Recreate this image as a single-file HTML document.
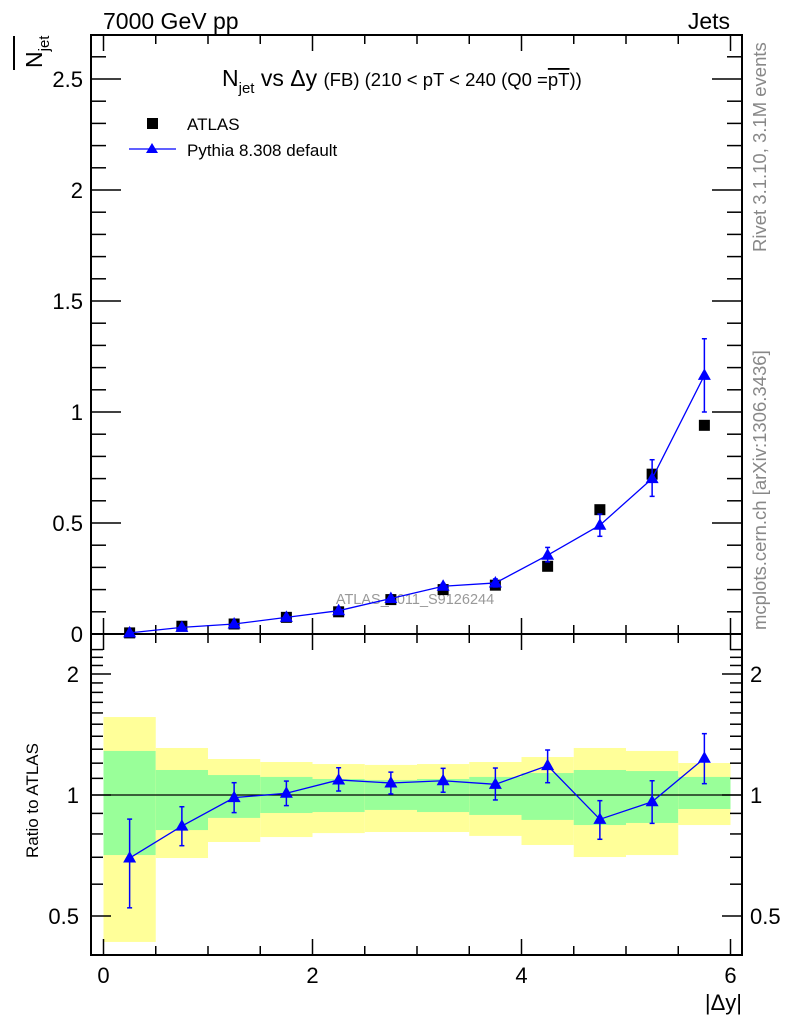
<!DOCTYPE html>
<html><head><meta charset="utf-8"><style>
html,body{margin:0;padding:0;background:#fff;}
svg{display:block;font-family:"Liberation Sans",sans-serif;}
</style></head><body>
<svg id="c" width="786" height="1024" viewBox="0 0 786 1024">
<text x="103" y="29" font-size="23">7000 GeV pp</text>
<text x="730" y="29" font-size="23" text-anchor="end">Jets</text>
<text x="0" y="0" font-size="18.5" fill="#888" transform="translate(766,252) rotate(-90)">Rivet 3.1.10,  3.1M events</text>
<text x="0" y="0" font-size="18.5" fill="#888" transform="translate(766,630) rotate(-90)">mcplots.cern.ch [arXiv:1306.3436]</text>
<g>
<text x="222" y="86" font-size="23">N<tspan font-size="15" dy="7">jet</tspan><tspan dy="-7"> vs Δy </tspan><tspan font-size="18.5">(FB) (210 &lt; pT &lt; 240 (Q0 =</tspan><tspan font-size="18.5" text-decoration="overline">pT</tspan><tspan font-size="18.5">))</tspan></text>
</g>
<g transform="translate(42,68) rotate(-90)">
<text x="0" y="0" font-size="23">N<tspan font-size="15" dy="7">jet</tspan></text>
</g>
<line x1="14" y1="36" x2="14" y2="70" stroke="#000" stroke-width="2"/>
<text x="0" y="0" font-size="17" transform="translate(38,858) rotate(-90)">Ratio to ATLAS</text>
<text x="742" y="1010" font-size="22" text-anchor="end">|Δy|</text>
<text x="415" y="604" font-size="14.5" fill="#999" text-anchor="middle">ATLAS_2011_S9126244</text>
<g>
<rect x="147" y="118" width="11" height="11" fill="#000"/>
<text x="187" y="130" font-size="17">ATLAS</text>
<line x1="129" y1="149" x2="176" y2="149" stroke="#00f" stroke-width="1.3"/>
<path d="M152,143 L158,153 L146,153 Z" fill="#00f"/>
<text x="187" y="156" font-size="17">Pythia 8.308 default</text>
</g>
<g id="g"></g>
</svg>
<script>
const xc=[0.25,0.75,1.25,1.75,2.25,2.75,3.25,3.75,4.25,4.75,5.25,5.75];
const atlas=[0.005,0.035,0.045,0.075,0.1,0.155,0.2,0.22,0.305,0.56,0.72,0.94];
const pythia=[0.005,0.03,0.045,0.075,0.105,0.16,0.215,0.23,0.355,0.49,0.7,1.165];
const pythiaLo=[0.004,0.027,0.041,0.07,0.098,0.151,0.203,0.212,0.325,0.44,0.62,1.0];
const pythiaHi=[0.006,0.033,0.049,0.08,0.112,0.169,0.227,0.248,0.39,0.54,0.785,1.33];
const ratio=[0.697,0.837,0.985,1.01,1.09,1.071,1.085,1.063,1.183,0.870,0.962,1.234];
const ratioLo=[0.524,0.748,0.904,0.941,1.023,1.006,1.016,0.972,1.073,0.776,0.850,1.067];
const ratioHi=[0.871,0.935,1.073,1.083,1.169,1.14,1.165,1.167,1.294,0.968,1.085,1.421];
const yelLo=[0.431,0.697,0.764,0.786,0.804,0.809,0.809,0.791,0.751,0.701,0.709,0.842];
const yelHi=[1.563,1.309,1.229,1.208,1.194,1.188,1.194,1.208,1.243,1.309,1.287,1.201];
const grnLo=[0.709,0.818,0.877,0.902,0.907,0.918,0.907,0.892,0.867,0.842,0.852,0.923];
const grnHi=[1.287,1.154,1.121,1.109,1.096,1.090,1.096,1.109,1.134,1.154,1.147,1.109];
const mainTicks=[0,0.5,1,1.5,2,2.5];
const mainTickLabels=["0","0.5","1","1.5","2","2.5"];
const ratioTicks=[0.5,1,2];
const ratioTickLabels=["0.5","1","2"];
const xTicks=[0,2,4,6];
const xTickLabels=["0","2","4","6"];

const NS="http://www.w3.org/2000/svg";
const G=document.getElementById('g');
const X=v=>103.5+v*104.5;
const Y=v=>634-v*222;
const R=v=>795-Math.log10(v)*402;
const L=91,Rt=742,T=35,MB=634,B=955;
function el(t,a,p){const e=document.createElementNS(NS,t);for(const k in a)e.setAttribute(k,a[k]);(p||G).appendChild(e);return e;}

for(let i=0;i<xc.length;i++){
  const x0=X(xc[i]-0.25),x1=X(xc[i]+0.25);
  const y=el('rect',{x:x0,y:R(yelHi[i]),width:x1-x0,height:R(yelLo[i])-R(yelHi[i]),fill:'#ffff99'});
  
  
  const g=el('rect',{x:x0,y:R(grnHi[i]),width:x1-x0,height:R(grnLo[i])-R(grnHi[i]),fill:'#99ff99'});
  
  
}
const one=el('line',{x1:L,x2:Rt,y1:R(1),y2:R(1),stroke:'#000','stroke-width':1.3});



const f1=el('rect',{x:L,y:T,width:Rt-L,height:MB-T,fill:'none',stroke:'#000','stroke-width':2});


const f2=el('rect',{x:L,y:MB,width:Rt-L,height:B-MB,fill:'none',stroke:'#000','stroke-width':2});



for(let v=0;v<=6.001;v+=0.5){
  const maj=Math.abs(v-Math.round(v/2)*2)<1e-6, len=maj?16:9;
  [[T,1],[MB,-1],[MB,1],[B,-1]].forEach(([y0,d])=>{
    el('line',{x1:X(v),x2:X(v),y1:y0,y2:y0+d*len,stroke:'#000','stroke-width':1.5});
  });
}
xTicks.forEach((v,i)=>{
  const t=el('text',{x:X(v),y:983,'font-size':22,'text-anchor':'middle'});
  t.textContent=xTickLabels[i];
  
  
});
for(let k=0;k<=27;k++){
  const v=k*0.1,maj=k%5==0,len=maj?30:15;
  if(Y(v)<T)continue;
  el('line',{x1:L,x2:L+len,y1:Y(v),y2:Y(v),stroke:'#000','stroke-width':1.5});
  el('line',{x1:Rt,x2:Rt-len,y1:Y(v),y2:Y(v),stroke:'#000','stroke-width':1.5});
}
mainTicks.forEach((v,i)=>{
  const t=el('text',{x:83,y:Y(v)+8,'font-size':22,'text-anchor':'end'});
  t.textContent=mainTickLabels[i];
  
  
});
const rmin=[0.4,0.5,0.6,0.7,0.8,0.9,1,1.1,1.2,1.3,1.4,1.5,1.6,1.7,1.8,1.9,2,2.1,2.2,2.3];
rmin.forEach(v=>{
  const maj=ratioTicks.includes(v),len=maj?20:12,y=R(v);
  if(y<MB||y>B)return;
  el('line',{x1:L,x2:L+len,y1:y,y2:y,stroke:'#000','stroke-width':1.5});
  el('line',{x1:Rt,x2:Rt-len,y1:y,y2:y,stroke:'#000','stroke-width':1.5});
});
ratioTicks.forEach((v,i)=>{
  const t=el('text',{x:79,y:R(v)+8,'font-size':22,'text-anchor':'end'});
  t.textContent=ratioTickLabels[i];
  
  
  const t2=el('text',{x:750,y:R(v)+8,'font-size':22});
  t2.textContent=ratioTickLabels[i];
  
  
});

xc.forEach((x,i)=>{
  const r=el('rect',{x:X(x)-5.5,y:Y(atlas[i])-5.5,width:11,height:11,fill:'#000'});
  
  
});
function series(ys,lo,hi,F,name){
  const p=el('polyline',{points:xc.map((x,i)=>X(x)+','+F(ys[i])).join(' '),fill:'none',stroke:'#00f','stroke-width':1.3});
  
  
  xc.forEach((x,i)=>{
    const cx=X(x);
    el('line',{x1:cx,x2:cx,y1:F(lo[i]),y2:F(hi[i]),stroke:'#00f','stroke-width':1.5});
    el('line',{x1:cx-2.5,x2:cx+2.5,y1:F(lo[i]),y2:F(lo[i]),stroke:'#00f','stroke-width':1.5});
    el('line',{x1:cx-2.5,x2:cx+2.5,y1:F(hi[i]),y2:F(hi[i]),stroke:'#00f','stroke-width':1.5});
    const cy=F(ys[i]);
    const t=el('path',{d:`M${cx},${cy-7} L${cx+6.5},${cy+4.5} L${cx-6.5},${cy+4.5} Z`,fill:'#00f'});
    
    
  });
}
series(pythia,pythiaLo,pythiaHi,Y,'pythia');
series(ratio,ratioLo,ratioHi,R,'pythia-ratio');
</script>
</body></html>
